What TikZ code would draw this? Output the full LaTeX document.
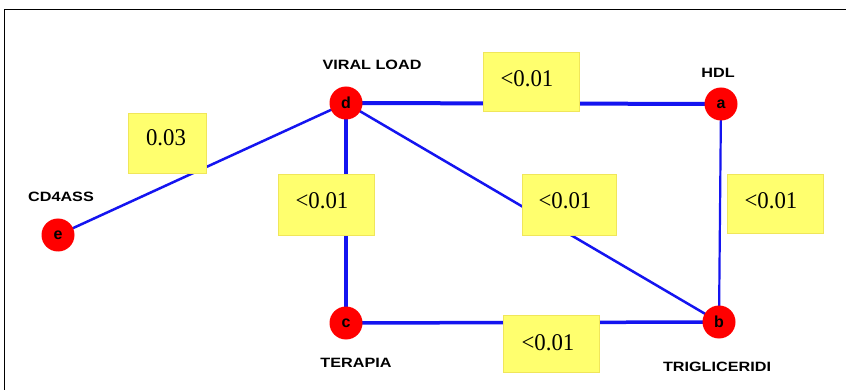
\documentclass[tikz,border=0pt]{standalone}
\usepackage{fontspec}
\setmainfont{Liberation Serif}
\newfontfamily\labfont{Liberation Sans}
\definecolor{edgeblue}{RGB}{20,20,240}
\definecolor{boxyellow}{RGB}{255,255,110}
\definecolor{boxedge}{RGB}{240,230,90}
\newcommand{\numtxt}[1]{\scalebox{0.95}[1]{\fontsize{24}{24}\selectfont #1}}
\newcommand{\labtxt}[1]{\scalebox{1.2}[1]{\labfont\bfseries\fontsize{13.5}{13.5}\selectfont #1}}
\begin{document}
\begin{tikzpicture}[x=1pt,y=-1pt,
  vert/.style={circle,fill=red,inner sep=0pt,minimum size=33pt,font=\labfont\bfseries\fontsize{16}{16}\selectfont},
  lab/.style={inner sep=0pt},
  numlab/.style={inner sep=0pt},
  pbox/.style={fill=boxyellow,draw=boxedge,line width=0.6pt,inner sep=0pt,minimum width=96pt,minimum height=59pt},
  edge/.style={draw=edgeblue,line width=#1},
  edge/.default=2.5pt]
\useasboundingbox (0,0) rectangle (846,390);
\fill[white] (0,0) rectangle (846,390);
\draw[line width=1.5pt] (4.5,390) -- (4.5,9.5) -- (846,9.5);
% vertices positions
\coordinate (pd) at (346,103);
\coordinate (pa) at (721,104);
\coordinate (pe) at (58,235);
\coordinate (pc) at (346,323);
\coordinate (pb) at (719,322);
% edges
\draw[edge=4pt] (pd) -- (pa);
\draw[edge=4pt] (pd) -- (pc);
\draw[edge=3.5pt] (pc) -- (pb);
\draw[edge=2.5pt] (pd) -- (pb);
\draw[edge=2.2pt] (pa) -- (pb);
\draw[edge=2.5pt] (pd) -- (pe);
% boxes
\node[pbox] (b1) at (531.5,82) {};
\node[numlab] (t1) at (527,79) {\numtxt{<0.01}};
\node[pbox,minimum width=78pt,minimum height=60pt] (b2) at (167,143) {};
\node[numlab] (t2) at (166,138) {\numtxt{0.03}};
\node[pbox,minimum height=61pt] (b3) at (326,204.5) {};
\node[numlab] (t3) at (322,201) {\numtxt{<0.01}};
\node[pbox,minimum width=94pt,minimum height=61pt] (b4) at (569,204.5) {};
\node[numlab] (t4) at (565,201) {\numtxt{<0.01}};
\node[pbox,minimum height=59pt] (b5) at (775,203.5) {};
\node[numlab] (t5) at (771,201) {\numtxt{<0.01}};
\node[pbox,minimum height=57pt] (b6) at (551.5,343.5) {};
\node[numlab] (t6) at (548,343) {\numtxt{<0.01}};
% vertices
\node[vert] (d) at (pd) {d};
\node[vert] (a) at (pa) {a};
\node[vert] (e) at (pe) {e};
\node[vert] (c) at (pc) {c};
\node[vert] (b) at (pb) {b};
% labels
\node[lab] (ld) at (372,65) {\labtxt{VIRAL LOAD}};
\node[lab] (la) at (718,73) {\labtxt{HDL}};
\node[lab] (le) at (61,197) {\labtxt{CD4ASS}};
\node[lab] (lc) at (356,363) {\labtxt{TERAPIA}};
\node[lab] (lb) at (717,367) {\labtxt{TRIGLICERIDI}};
\end{tikzpicture}
\end{document}
